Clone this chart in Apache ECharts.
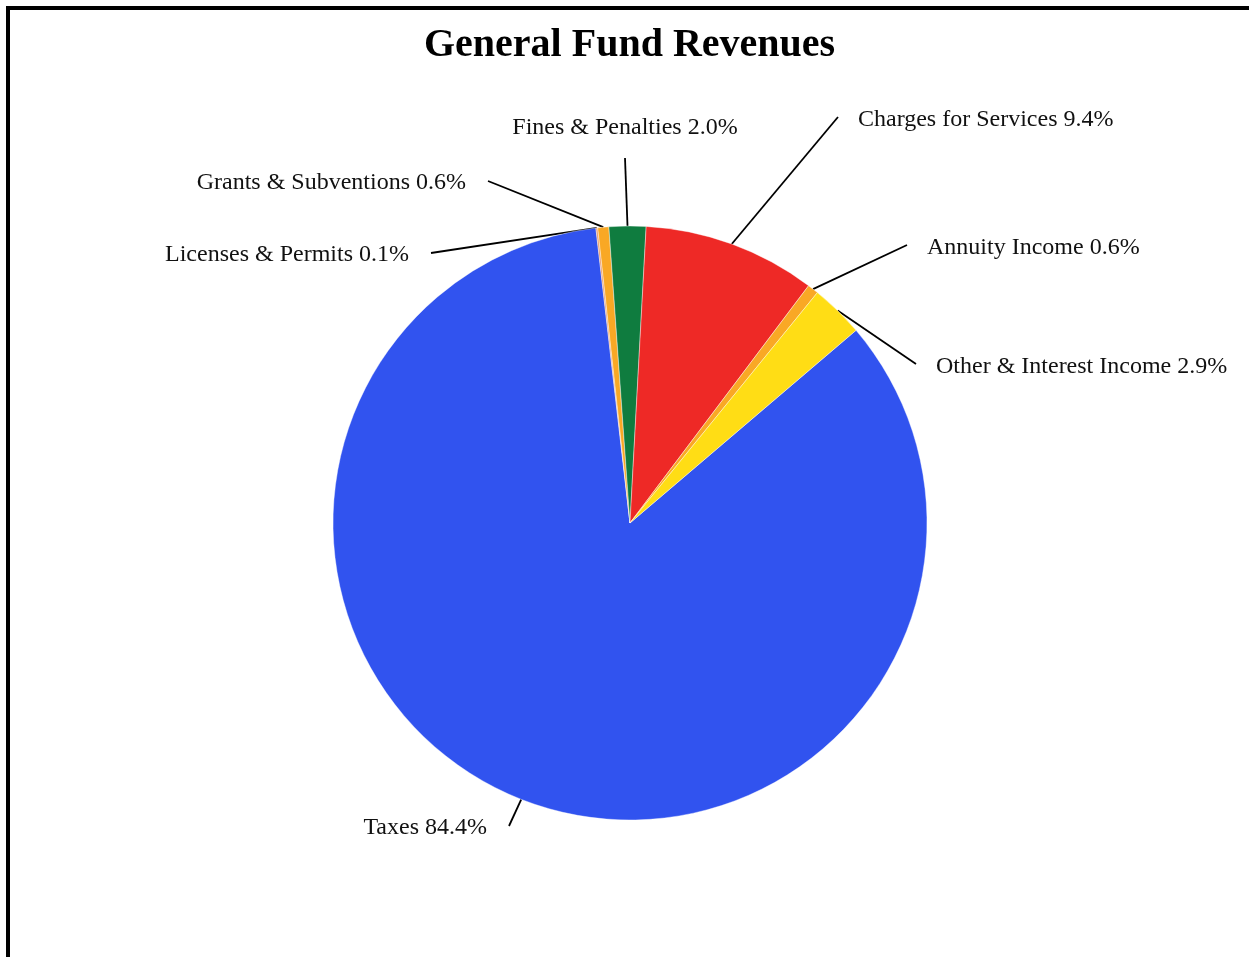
<!DOCTYPE html>
<html>
<head>
<meta charset="utf-8">
<title>General Fund Revenues</title>
<script src="https://cdn.jsdelivr.net/npm/echarts@6/dist/echarts.min.js"></script>
<style>
html, body {
  margin: 0;
  padding: 0;
  background: #fff;
  overflow: hidden;
}
#chart {
  position: absolute;
  left: 0;
  top: 0;
  width: 1249px;
  height: 957px;
}
#frame {
  position: absolute;
  left: 6px;
  top: 6px;
  width: 1400px;
  height: 1100px;
  border-left: 4px solid #000;
  border-top: 4px solid #000;
  pointer-events: none;
}
</style>
</head>
<body>
<div id="chart"></div>
<div id="frame"></div>
<script>
// slices, in clockwise order starting with Taxes
let categories = [
  "Taxes",
  "Licenses & Permits",
  "Grants & Subventions",
  "Fines & Penalties",
  "Charges for Services",
  "Annuity Income",
  "Other & Interest Income"
];
let values = [84.4, 0.1, 0.6, 2.0, 9.4, 0.6, 2.9];
let colors = ["#3153ef", "#e89a6e", "#f9a825", "#0f7c3f", "#ee2926", "#f9a825", "#ffdd15"];

// where each label text sits (text anchor) and how it is aligned
let labelX = [487, 409, 466, 625, 858, 927, 936];
let labelY = [828, 255, 183, 128, 120, 248, 367];
let labelAlign = ["right", "right", "right", "center", "left", "left", "left"];

let myChart = echarts.init(document.getElementById("chart"));

let option = {
  backgroundColor: "#fff",
  animation: false,
  title: {
    text: "General Fund Revenues",
    left: 419,
    top: 21,
    textStyle: {
      fontFamily: "Liberation Serif",
      fontWeight: "bold",
      fontSize: 40,
      color: "#000"
    }
  },
  series: [
    {
      type: "pie",
      center: [630, 523],
      radius: 297,
      startAngle: 40.44,
      clockwise: true,
      avoidLabelOverlap: false,
      emphasis: { disabled: true },
      itemStyle: {
        borderColor: "#fff",
        borderWidth: 0.4
      },
      label: {
        show: true,
        fontFamily: "Liberation Serif",
        fontSize: 24,
        color: "#111",
        formatter: function (p) {
          return p.name + " " + p.value.toFixed(1) + "%";
        }
      },
      labelLine: {
        show: true,
        length: 10,
        length2: 10,
        smooth: false,
        lineStyle: { color: "#000", width: 1.8 }
      },
      labelLayout: function (params) {
        let i = params.dataIndex;
        let x = labelX[i];
        let y = labelY[i];
        let end;
        if (labelAlign[i] === "left") {
          end = [x - 20, y - 3];
        } else if (labelAlign[i] === "right") {
          end = [x + 22, y - 2];
        } else {
          end = [x, y + 30];
        }
        let start = params.labelLinePoints ? params.labelLinePoints[0] : end;
        return {
          x: x,
          y: y,
          align: labelAlign[i],
          verticalAlign: "middle",
          labelLinePoints: [start, end, end]
        };
      },
      data: categories.map(function (name, i) {
        return {
          name: name,
          value: values[i],
          itemStyle: { color: colors[i] }
        };
      })
    }
  ]
};

myChart.setOption(option);
</script>
</body>
</html>
